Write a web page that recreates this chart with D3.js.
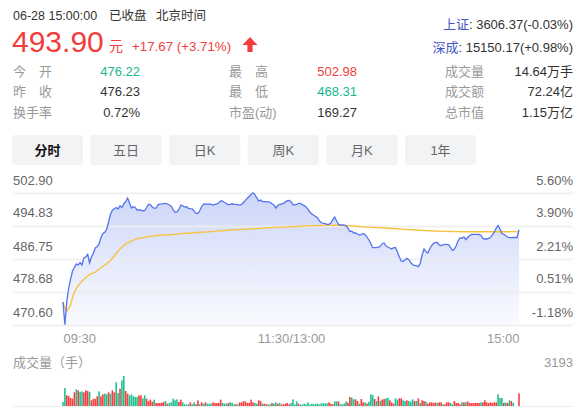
<!DOCTYPE html>
<html><head><meta charset="utf-8">
<script src="https://cdn.jsdelivr.net/npm/d3@7"></script>
<style>
body{margin:0;background:#fff;}
svg{display:block;font-family:"Liberation Sans",Arial,"Noto Sans CJK SC",sans-serif;}
</style></head>
<body><svg id="c" width="585" height="407"></svg>
<script>
// ---------------- data ----------------
const priceVals = [476.22,470.70,476.47,479.65,481.86,483.81,484.67,485.53,485.28,485.89,
485.28,486.99,487.24,487.90,485.77,487.24,488.22,489.44,489.81,490.42,
492.01,492.99,493.28,494.09,495.80,497.76,498.68,499.06,499.35,498.99,
499.79,499.35,500.28,500.77,501.68,500.45,499.23,499.55,499.35,498.74,
498.74,498.74,498.50,498.62,499.35,500.14,500.01,499.47,499.16,499.23,
500.01,500.19,500.23,500.31,500.36,500.21,499.96,499.65,498.74,498.18,
498.25,498.86,499.96,499.79,499.47,499.55,499.16,499.06,498.99,498.45,
497.93,497.93,498.62,499.60,500.16,500.21,500.14,500.21,500.09,499.96,
500.09,500.21,500.53,500.99,500.94,500.57,500.33,500.01,500.14,500.26,
500.14,500.14,500.06,499.96,500.11,500.57,501.11,501.60,502.04,502.58,
502.95,502.51,501.73,500.94,501.19,500.82,500.77,500.77,500.72,500.62,
500.26,499.96,499.23,499.84,500.06,500.21,500.38,500.67,501.01,501.06,
500.77,500.06,500.01,500.14,500.36,500.38,500.01,499.82,499.43,498.91,
498.20,497.76,497.44,497.15,496.78,496.05,495.68,495.46,495.38,495.24,
495.24,495.56,496.42,497.03,496.05,495.22,495.07,495.07,495.02,494.87,
494.26,493.48,493.58,493.11,493.16,492.87,492.62,492.72,493.01,492.67,
492.13,491.40,490.54,489.52,489.52,489.52,489.64,489.86,490.49,490.67,
489.93,489.69,489.44,489.22,489.49,489.56,488.46,487.31,486.26,486.11,
486.51,486.90,486.58,485.89,485.36,485.16,485.04,484.87,485.65,487.73,
489.20,488.56,488.22,489.20,490.05,490.59,490.74,490.79,490.20,490.03,
490.18,490.35,490.35,490.23,489.56,488.83,489.20,490.05,491.28,491.91,
491.84,492.18,491.47,492.01,492.43,492.77,492.79,492.79,492.79,492.75,
492.50,491.77,491.64,491.64,491.82,492.01,492.70,493.23,494.34,494.95,
494.09,492.99,492.79,492.43,492.13,491.96,491.96,492.01,492.01,492.01,
493.90];

const avgVals = [476.22,474.6,474.0,474.6,475.6,477.3,478.6,479.5,480.2,480.8,
481.3,481.8,482.2,482.6,482.95,483.2,483.35,483.55,483.9,484.3,
484.6,484.95,485.25,485.6,486.0,486.4,486.95,487.5,488.1,488.65,
489.2,489.65,490.1,490.45,490.7,490.95,491.15,491.35,491.55,491.7,
491.8,491.88,491.95,492.05,492.13,492.22,492.31,492.36,492.41,492.46,
492.5,492.55,492.58,492.61,492.63,492.66,492.69,492.72,492.76,492.8,
492.84,492.9,492.95,492.98,493.01,493.04,493.07,493.11,493.15,493.19,
493.22,493.25,493.28,493.31,493.33,493.36,493.39,493.42,493.45,493.49,
493.52,493.56,493.6,493.64,493.68,493.72,493.76,493.8,493.85,493.87,
493.89,493.92,493.94,493.97,493.99,494.01,494.04,494.06,494.08,494.11,
494.14,494.17,494.2,494.23,494.26,494.29,494.32,494.35,494.38,494.41,
494.43,494.45,494.47,494.5,494.52,494.54,494.56,494.59,494.61,494.63,
494.65,494.67,494.7,494.72,494.75,494.77,494.8,494.82,494.85,494.87,
494.9,494.91,494.92,494.93,494.94,494.95,494.96,494.97,494.98,494.99,
495.0,495.0,495.01,495.01,495.0,495.0,494.99,494.97,494.95,494.93,
494.91,494.9,494.86,494.82,494.78,494.74,494.7,494.66,494.62,494.58,
494.56,494.54,494.52,494.49,494.47,494.45,494.43,494.41,494.38,494.35,
494.32,494.29,494.26,494.23,494.2,494.17,494.14,494.1,494.07,494.04,
494.01,493.98,493.95,493.92,493.89,493.86,493.83,493.8,493.77,493.75,
493.73,493.7,493.68,493.66,493.64,493.61,493.59,493.57,493.54,493.53,
493.52,493.51,493.5,493.49,493.48,493.47,493.46,493.45,493.44,493.43,
493.43,493.43,493.43,493.43,493.43,493.43,493.43,493.43,493.43,493.43,
493.43,493.43,493.43,493.43,493.43,493.43,493.43,493.43,493.43,493.43,
493.43,493.43,493.43,493.43,493.43,493.43,493.44,493.44,493.44,493.44,
493.44];

const volVals = [426,1916,1136,1064,851,780,1454,1774,1667,1490,
1561,1454,1667,1596,1490,603,780,745,1029,1561,
1029,1242,1312,1242,1454,1312,1667,1454,2520,1383,
1845,2733,3193,1596,1312,1136,1242,1029,958,958,
1136,1136,816,1136,780,532,674,461,674,319,
319,319,355,426,532,248,319,390,780,603,
709,426,674,390,177,177,177,390,177,390,
177,603,177,390,248,390,248,248,248,390,
319,319,319,674,319,248,248,319,390,319,
177,177,177,390,390,497,497,319,319,674,
390,319,248,603,532,248,248,177,177,177,
319,248,390,248,319,177,177,248,319,177,
319,709,177,497,248,142,142,248,177,390,
142,248,177,248,248,177,284,284,284,284,
390,248,177,497,497,497,177,177,248,497,
355,958,887,709,709,532,248,745,390,390,
248,461,1242,1170,745,532,1029,532,674,745,
816,887,603,390,248,816,674,816,816,603,
532,603,532,461,709,532,532,816,319,603,
532,461,248,390,390,319,390,319,390,390,
177,177,390,390,319,177,532,319,319,177,
390,390,390,497,319,319,319,319,319,319,
390,390,603,390,319,390,319,390,390,1242,
851,851,319,390,319,603,532,319,0,0,
1348];

// r = up minute, g = down minute
const volDir = ("ggrrrrrgrg"+"grrrgrrrrg"+"rrggrgrrgg"+"rggrrggggg"+"rrggrrrrgr"+
"rrrrgrgggg"+"grrggggrgg"+"rrgrgrgggr"+"rrrrgggrgg"+"grgrrrrrrr"+
"rggrrgrrgg"+"rggrgrrrrr"+"ggggrggggg"+"gggggggggg"+"rrrggrgggg"+
"rrggrrgrrg"+"rgggrgrgrr"+"ggrrrggrrg"+"grgggrgrgr"+"rgrrrrrgrr"+
"grrrggrrrr"+"grgrrrrrrr"+"grrrrrrrrg"+"ggrgrgrgrr"+"r").split("");

const priceTicks = [502.90, 494.83, 486.75, 478.68, 470.60];
const pctLabels = ["5.60%","3.90%","2.21%","0.51%","-1.18%"];
const timeTicks = [0, 120, 240];
const timeLabels = ["09:30","11:30/13:00","15:00"];
const volMaxLabel = 3193;

const tabs = ["分时","五日","日K","周K","月K","1年"];
const infoLabels = [["今　开","最　高","成交量"],["昨　收","最　低","成交额"],["换手率","市盈(动)","总市值"]];
const infoValues = [["476.22","502.98","14.64万手"],["476.23","468.31","72.24亿"],["0.72%","169.27","1.15万亿"]];
const infoTone = [["down","up","none"],["none","down","none"],["none","none","none"]];
const indexNames = ["上证","深成"];
const indexValues = ["3606.37(-0.03%)","15150.17(+0.98%)"];

// ---------------- drawing ----------------
const RED = "#f23d3d", GREEN = "#14b88e", BLUE = "#5673ee", GOLD = "#f7c342";
const svg = d3.select("#c");

// header
const hdr = svg.append("g");
hdr.append("text").attr("x",13).attr("y",19.5).attr("font-size",12.5).attr("fill","#333").text("06-28 15:00:00");
hdr.append("text").attr("x",109).attr("y",19.5).attr("font-size",12.5).attr("fill","#333").text("已收盘");
hdr.append("text").attr("x",156).attr("y",19.5).attr("font-size",12.5).attr("fill","#333").text("北京时间");
hdr.append("text").attr("x",12).attr("y",51.7).attr("font-size",30).attr("fill",RED).text("493.90");
hdr.append("text").attr("x",109).attr("y",51).attr("font-size",14).attr("fill",RED).text("元");
hdr.append("text").attr("x",132).attr("y",51).attr("font-size",13.3).attr("fill",RED).text("+17.67 (+3.71%)");
hdr.append("path").attr("fill",RED)
  .attr("d","M250,37 L257.5,45 L252.6,45 L252.6,52 L247.4,52 L247.4,45 L242.5,45 Z");

indexNames.forEach((n,i)=>{
  const t = hdr.append("text").attr("x",573).attr("y",28.7+i*23.5).attr("text-anchor","end").attr("font-size",13).attr("fill","#333");
  t.append("tspan").attr("fill","#3f55c4").text(n);
  t.append("tspan").text(": "+indexValues[i]);
});

const labelX = [13,229,445];
infoLabels.forEach((row,r)=>{
  const cy = [71,91,112][r] + 4.7;
  row.forEach((lab,c)=>{
    hdr.append("text").attr("x",labelX[c]).attr("y",cy).attr("font-size",13).attr("fill","#999").text(lab);
    const tone = infoTone[r][c];
    const col = tone==="up"?RED:tone==="down"?GREEN:"#333";
    const vx = c===0?140:c===1?357:573;
    hdr.append("text").attr("x",vx).attr("y",cy).attr("text-anchor","end").attr("font-size",13).attr("fill",col).text(infoValues[r][c]);
  });
});

// tabs
const tabX = d3.scaleBand().domain(tabs).range([12,476]).paddingInner(0.097);
const tg = svg.append("g");
tg.selectAll("rect").data(tabs).join("rect")
  .attr("x",d=>tabX(d)).attr("y",135).attr("width",tabX.bandwidth()).attr("height",30).attr("rx",3)
  .attr("fill","#f2f3f5");
tg.selectAll("text").data(tabs).join("text")
  .attr("x",d=>tabX(d)+tabX.bandwidth()/2).attr("y",154.7).attr("text-anchor","middle")
  .attr("font-size",13).attr("font-weight",(d,i)=>i===0?"bold":"normal")
  .attr("fill",(d,i)=>i===0?"#111":"#666").text(d=>d);

// price chart
const x = d3.scaleLinear().domain([0,240]).range([63,519]);
const y = d3.scaleLinear().domain([470.60,502.90]).range([325,193]);

const defs = svg.append("defs");
const grad = defs.append("linearGradient").attr("id","ag").attr("gradientUnits","userSpaceOnUse")
  .attr("x1",0).attr("x2",0).attr("y1",193).attr("y2",325);
grad.append("stop").attr("offset","0%").attr("stop-color","#cdd6f8");
grad.append("stop").attr("offset","100%").attr("stop-color","#fafbff");

const area = d3.area().x((d,i)=>x(i)).y0(325).y1(d=>y(d));
svg.append("path").datum(priceVals).attr("d",area).attr("fill","url(#ag)");

// grid + left labels
const gAxis = svg.append("g").attr("transform","translate(13,0)")
  .call(d3.axisRight(y).tickValues(priceTicks).tickSize(560).tickFormat(d3.format(".2f")));
gAxis.select(".domain").remove();
gAxis.selectAll(".tick line").attr("stroke","#eeeeee").attr("stroke-opacity",0.8).attr("stroke-width",2);
gAxis.selectAll(".tick text").attr("x",0).attr("dy",-9).attr("text-anchor","start")
  .attr("font-size",13).attr("fill","#666").attr("font-family",null);

const gAxisR = svg.append("g").attr("transform","translate(573,0)")
  .call(d3.axisLeft(y).tickValues(priceTicks).tickSize(0).tickFormat((d,i)=>pctLabels[i]));
gAxisR.select(".domain").remove();
gAxisR.selectAll(".tick text").attr("x",0).attr("dy",-9).attr("text-anchor","end")
  .attr("font-size",13).attr("fill","#666").attr("font-family",null);

const gx = svg.append("g").attr("transform","translate(0,325)")
  .call(d3.axisBottom(x).tickValues(timeTicks).tickSize(0).tickFormat((d,i)=>timeLabels[i]));
gx.select(".domain").remove();
gx.selectAll(".tick text").attr("y",0).attr("dy",17.5).attr("font-size",13).attr("fill","#999")
  .attr("font-family",null)
  .attr("text-anchor",(d,i)=>i===0?"start":i===timeTicks.length-1?"end":"middle");

// lines
const line = d3.line().x((d,i)=>x(i)).y(d=>y(d));
svg.append("path").datum(avgVals).attr("d",line).attr("fill","none").attr("stroke",GOLD).attr("stroke-width",1.4);
svg.append("path").datum(priceVals).attr("d",line).attr("fill","none").attr("stroke",BLUE).attr("stroke-width",1.3);

// volume
const yv = d3.scaleLinear().domain([0,volMaxLabel]).range([406,376]);
svg.append("text").attr("x",13).attr("y",367).attr("font-size",13).attr("fill","#999").text("成交量（手）");
svg.append("text").attr("x",573).attr("y",367).attr("text-anchor","end").attr("font-size",13).attr("fill","#999").text(volMaxLabel);
svg.append("line").attr("x1",13).attr("x2",573).attr("y1",406.5).attr("y2",406.5).attr("stroke","#eeeeee");
svg.append("g").selectAll("rect").data(volVals).join("rect")
  .attr("x",(d,i)=>x(i)-0.8).attr("width",1.6)
  .attr("y",d=>yv(d)).attr("height",d=>406-yv(d))
  .attr("fill",(d,i)=>volDir[i]==="r"?"#fb3b3b":"#1fc193");
</script></body></html>
